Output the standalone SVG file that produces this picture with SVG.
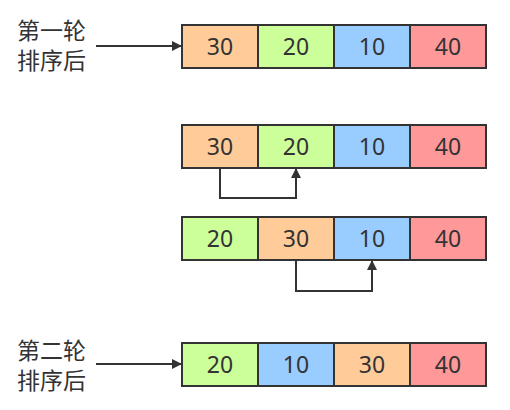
<svg xmlns="http://www.w3.org/2000/svg" width="510" height="410" viewBox="0 0 510 410">
<style>
.c{stroke:#333;stroke-width:2}
.o{fill:#FFCC99}.g{fill:#CCFF99}.b{fill:#99CCFF}.r{fill:#FF9999}
.n{font-family:"Noto Sans","Liberation Sans",sans-serif;font-size:23px;fill:#333;text-anchor:middle}
.l{font-family:"Noto Sans CJK SC",sans-serif;font-size:23px;fill:#333}
.e{fill:none;stroke:#333;stroke-width:2}
</style>
<defs>
<marker id="ah" viewBox="0 0 10 10" refX="9" refY="5" markerWidth="5" markerHeight="5" orient="auto" markerUnits="strokeWidth">
<path d="M0,0 L10,5 L0,10 z" fill="#333"/>
</marker>
</defs>
<rect width="510" height="410" fill="#fff"/>
<g id="label1"><text class="l" x="17" y="39">第一轮</text><text class="l" x="17" y="69">排序后</text></g>
<g id="label2"><text class="l" x="17" y="359">第二轮</text><text class="l" x="17" y="389">排序后</text></g>
<g id="row1">
<rect class="c o" x="182" y="25" width="76" height="43"/><text class="n" x="220" y="55">30</text>
<rect class="c g" x="258" y="25" width="76" height="43"/><text class="n" x="296" y="55">20</text>
<rect class="c b" x="334" y="25" width="76" height="43"/><text class="n" x="372" y="55">10</text>
<rect class="c r" x="410" y="25" width="76" height="43"/><text class="n" x="448" y="55">40</text>
</g>
<g id="row2">
<rect class="c o" x="182" y="125" width="76" height="43"/><text class="n" x="220" y="155">30</text>
<rect class="c g" x="258" y="125" width="76" height="43"/><text class="n" x="296" y="155">20</text>
<rect class="c b" x="334" y="125" width="76" height="43"/><text class="n" x="372" y="155">10</text>
<rect class="c r" x="410" y="125" width="76" height="43"/><text class="n" x="448" y="155">40</text>
</g>
<g id="row3">
<rect class="c g" x="182" y="217" width="76" height="43"/><text class="n" x="220" y="247">20</text>
<rect class="c o" x="258" y="217" width="76" height="43"/><text class="n" x="296" y="247">30</text>
<rect class="c b" x="334" y="217" width="76" height="43"/><text class="n" x="372" y="247">10</text>
<rect class="c r" x="410" y="217" width="76" height="43"/><text class="n" x="448" y="247">40</text>
</g>
<g id="row4">
<rect class="c g" x="182" y="343" width="76" height="43"/><text class="n" x="220" y="373">20</text>
<rect class="c b" x="258" y="343" width="76" height="43"/><text class="n" x="296" y="373">10</text>
<rect class="c o" x="334" y="343" width="76" height="43"/><text class="n" x="372" y="373">30</text>
<rect class="c r" x="410" y="343" width="76" height="43"/><text class="n" x="448" y="373">40</text>
</g>
<g id="connectors">
<path class="e" d="M96,46 H181" marker-end="url(#ah)"/>
<path class="e" d="M96,364 H181" marker-end="url(#ah)"/>
<path class="e" d="M220,168 V198 H296 V169" marker-end="url(#ah)"/>
<path class="e" d="M296,260 V291 H372 V261" marker-end="url(#ah)"/>
</g>
</svg>
